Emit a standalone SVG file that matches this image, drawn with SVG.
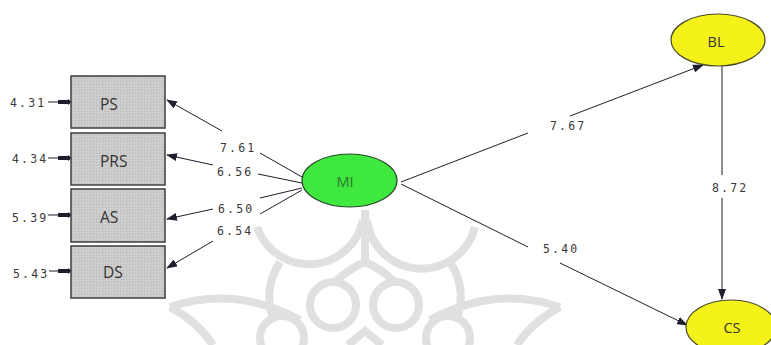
<svg xmlns="http://www.w3.org/2000/svg" width="771" height="345" viewBox="0 0 771 345">
  <style>
    .box { fill: url(#grain); stroke: #3c3c3c; stroke-width: 1.5; }
    .lbl { font-family: "Open Sans", "DejaVu Sans", sans-serif; font-size: 15.5px; fill: #333; }
    .mid { text-anchor: middle; }
    .num { font-family: "DejaVu Sans Mono", "Liberation Mono", monospace; font-size: 11.5px; fill: #3a3a3a; letter-spacing: 2.2px; }
    .edge { stroke: #1e1e30; stroke-width: 1; fill: none; }
    .err { stroke: #1e1e30; stroke-width: 1; fill: none; }
    .wm { stroke: #e0e0e0; stroke-width: 8; fill: none; }
  </style>
  <defs>
    <pattern id="grain" width="3" height="3" patternUnits="userSpaceOnUse">
      <rect width="3" height="3" fill="#cbcbcb"/>
      <rect x="0" y="0" width="1" height="1" fill="#b8b8b8"/>
      <rect x="2" y="1" width="1" height="1" fill="#d6d6d6"/>
    </pattern>
    <marker id="arr" markerWidth="11" markerHeight="8" refX="10" refY="4" orient="auto" markerUnits="userSpaceOnUse">
      <path d="M0,0 L11,4 L0,8 Z" fill="#1e1e30"/>
    </marker>
    <marker id="blk" markerWidth="14" markerHeight="6" refX="13" refY="3" orient="auto" markerUnits="userSpaceOnUse">
      <path d="M0,1 L10,1 L10,0 L14,3 L10,6 L10,5 L0,5 Z" fill="#1e1e30"/>
    </marker>
  </defs>

  <rect width="771" height="345" fill="#ffffff"/>

  <!-- background emblem -->
  <g id="emblem">
    <path class="wm" d="M257,227 A55,55 0 0 0 363,220"/>
    <path class="wm" d="M367,220 A55,55 0 0 0 475,227"/>
    <path class="wm" d="M365,210 L365,262"/>
    <path class="wm" d="M365,262 Q350,268 335,282 M365,262 Q380,268 395,282"/>
    <circle class="wm" cx="333" cy="305" r="23"/>
    <circle class="wm" cx="396" cy="305" r="23"/>
    <path class="wm" d="M280,262 Q262,290 274,322"/>
    <path class="wm" d="M450,262 Q468,290 456,322"/>
    <path class="wm" d="M170,307 Q235,285 300,320"/>
    <path class="wm" d="M560,307 Q495,285 430,320"/>
    <circle class="wm" cx="282" cy="338" r="22"/>
    <circle class="wm" cx="448" cy="338" r="22"/>
    <path class="wm" d="M170,307 Q198,322 213,345"/>
    <path class="wm" d="M560,307 Q532,322 517,345"/>
    <path class="wm" d="M348,345 L365,331 L382,345"/>
  </g>

  <!-- connectors -->
  <g id="connectors">
    <path class="edge" d="M302,177 L260,153 M222,131 L167,100" marker-end="url(#arr)"/>
    <path class="edge" d="M302,183 L258,174 M213,165 L167,155" marker-end="url(#arr)"/>
    <path class="edge" d="M302,188 L260,198 M213,209 L167,219" marker-end="url(#arr)"/>
    <path class="edge" d="M302,190 L260,214 M213,241 L167,268" marker-end="url(#arr)"/>
    <path class="edge" d="M401,182 L528,133 M570,116 L703,65" marker-end="url(#arr)"/>
    <path class="edge" d="M401,184 L528,247 M560,263 L687,325" marker-end="url(#arr)"/>
    <path class="edge" d="M722,66 L722,175 M722,198 L722,299" marker-end="url(#arr)"/>
    <path class="err" d="M48,102 L71,102" marker-end="url(#blk)"/>
    <path class="err" d="M48,158 L71,158" marker-end="url(#blk)"/>
    <path class="err" d="M48,215 L71,215" marker-end="url(#blk)"/>
    <path class="err" d="M49,271 L71,271" marker-end="url(#blk)"/>
  </g>

  <!-- indicator boxes -->
  <g id="PS">
    <rect class="box" x="71" y="76" width="94" height="52"/>
    <text class="lbl" x="100" y="110">PS</text>
  </g>
  <g id="PRS">
    <rect class="box" x="71" y="133" width="94" height="52"/>
    <text class="lbl" x="100" y="167">PRS</text>
  </g>
  <g id="AS">
    <rect class="box" x="71" y="189" width="94" height="53"/>
    <text class="lbl" x="100" y="223">AS</text>
  </g>
  <g id="DS">
    <rect class="box" x="71" y="246" width="94" height="52"/>
    <text class="lbl" x="103" y="278">DS</text>
  </g>

  <!-- latent variables -->
  <g id="MI">
    <ellipse cx="349.5" cy="180.5" rx="47.5" ry="26.5" fill="#3ee83e" stroke="#2b4a2b" stroke-width="1.2"/>
    <text class="lbl mid" x="345" y="187" style="fill:#2f7a2f;font-size:14.5px">MI</text>
  </g>
  <g id="BL">
    <ellipse cx="718" cy="40" rx="47" ry="26" fill="#f5f21a" stroke="#4a4a2a" stroke-width="1.2"/>
    <text class="lbl mid" x="716" y="47" style="font-size:14.5px">BL</text>
  </g>
  <g id="CS">
    <ellipse cx="731" cy="327" rx="45" ry="27" fill="#f5f21a" stroke="#4a4a2a" stroke-width="1.2"/>
    <text class="lbl mid" x="732" y="333" style="font-size:14.5px">CS</text>
  </g>

  <!-- coefficients -->
  <g id="values">
    <text class="num" x="10" y="107">4.31</text>
    <text class="num" x="12" y="163">4.34</text>
    <text class="num" x="12" y="222">5.39</text>
    <text class="num" x="13" y="278">5.43</text>
    <text class="num" x="220" y="152">7.61</text>
    <text class="num" x="217" y="176">6.56</text>
    <text class="num" x="218" y="213">6.50</text>
    <text class="num" x="217" y="235">6.54</text>
    <text class="num" x="550" y="130">7.67</text>
    <text class="num" x="712" y="192">8.72</text>
    <text class="num" x="543" y="253">5.40</text>
  </g>
</svg>
